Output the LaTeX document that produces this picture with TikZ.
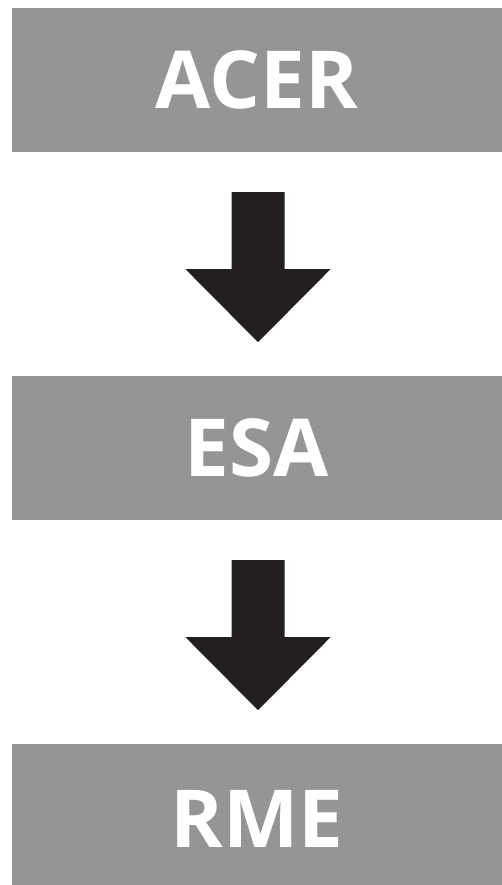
\documentclass[tikz,border=0pt]{standalone}
\usepackage{fontspec}
\setmainfont{Open Sans}
\usetikzlibrary{calc}
\definecolor{boxgray}{HTML}{959595}
\definecolor{arrowblack}{HTML}{231F20}
\begin{document}
\begin{tikzpicture}[x=1pt,y=-1pt,
  stage/.style={fill=boxgray, draw=none, minimum width=490pt, minimum height=144pt,
    inner sep=0pt, text=white, font=\fontsize{80}{80}\selectfont\bfseries},
  bigarrow/.style={fill=arrowblack, draw=none}]
\useasboundingbox (0,0) rectangle (502,885);
\node[stage] (acer) at (257,80) {ACER};
\node[stage] (esa) at (257,448) {ESA};
\node[stage, minimum height=149pt] (rme) at (257,818.5) {RME};
\coordinate (t1) at ($(acer.south)+(1,40)$);
\coordinate (t2) at ($(esa.south)+(1,40)$);
\fill[bigarrow] (t1) ++(-26.5,0) -- ++(53,0) -- ++(0,77) -- ++(46,0) -- ++(-72.5,73) -- ++(-72.5,-73) -- ++(46,0) -- cycle;
\fill[bigarrow] (t2) ++(-26.5,0) -- ++(53,0) -- ++(0,77) -- ++(46,0) -- ++(-72.5,73) -- ++(-72.5,-73) -- ++(46,0) -- cycle;
\end{tikzpicture}
\end{document}
